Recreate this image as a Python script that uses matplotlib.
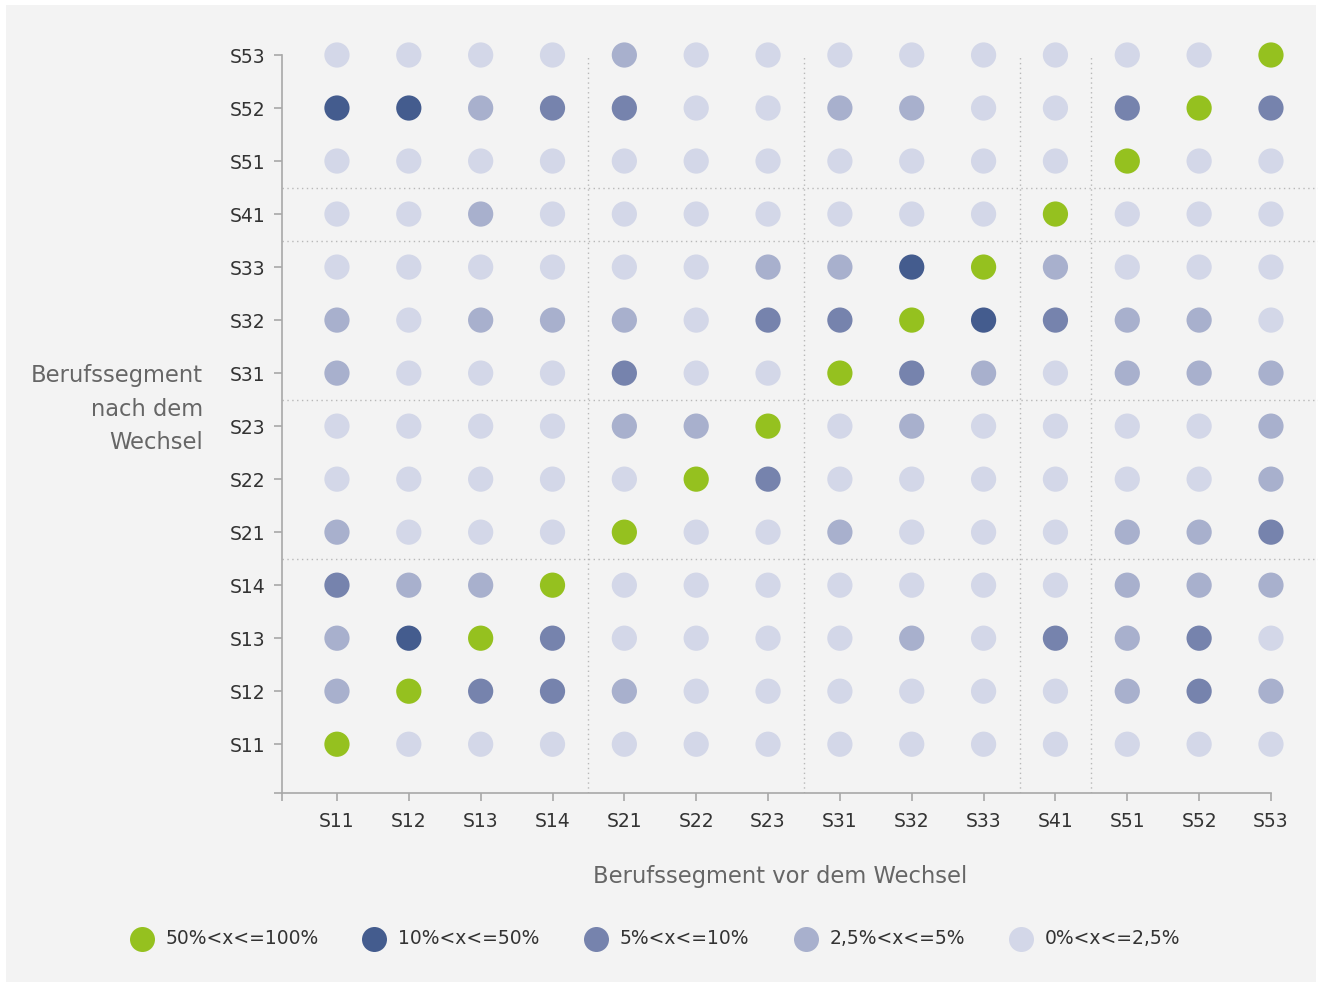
import matplotlib
matplotlib.use("Agg")
import matplotlib.pyplot as plt
from matplotlib.patches import Rectangle
from matplotlib.lines import Line2D
import numpy as np

plt.rcParams['font.family'] = ['DejaVu Sans']

# ---- data ----
segments = ["S11", "S12", "S13", "S14", "S21", "S22", "S23",
            "S31", "S32", "S33", "S41", "S51", "S52", "S53"]
# level per cell: 0 = 0-2,5%, 1 = 2,5-5%, 2 = 5-10%, 3 = 10-50%, 4 = 50-100%
# each list: row "after the change", columns = segment before the change (S11..S53)
row_S11 = [4, 0, 0, 0, 0, 0, 0, 0, 0, 0, 0, 0, 0, 0]
row_S12 = [1, 4, 2, 2, 1, 0, 0, 0, 0, 0, 0, 1, 2, 1]
row_S13 = [1, 3, 4, 2, 0, 0, 0, 0, 1, 0, 2, 1, 2, 0]
row_S14 = [2, 1, 1, 4, 0, 0, 0, 0, 0, 0, 0, 1, 1, 1]
row_S21 = [1, 0, 0, 0, 4, 0, 0, 1, 0, 0, 0, 1, 1, 2]
row_S22 = [0, 0, 0, 0, 0, 4, 2, 0, 0, 0, 0, 0, 0, 1]
row_S23 = [0, 0, 0, 0, 1, 1, 4, 0, 1, 0, 0, 0, 0, 1]
row_S31 = [1, 0, 0, 0, 2, 0, 0, 4, 2, 1, 0, 1, 1, 1]
row_S32 = [1, 0, 1, 1, 1, 0, 2, 2, 4, 3, 2, 1, 1, 0]
row_S33 = [0, 0, 0, 0, 0, 0, 1, 1, 3, 4, 1, 0, 0, 0]
row_S41 = [0, 0, 1, 0, 0, 0, 0, 0, 0, 0, 4, 0, 0, 0]
row_S51 = [0, 0, 0, 0, 0, 0, 0, 0, 0, 0, 0, 4, 0, 0]
row_S52 = [3, 3, 1, 2, 2, 0, 0, 1, 1, 0, 0, 2, 4, 2]
row_S53 = [0, 0, 0, 0, 1, 0, 0, 0, 0, 0, 0, 0, 0, 4]
rows = [row_S11, row_S12, row_S13, row_S14, row_S21, row_S22, row_S23,
        row_S31, row_S32, row_S33, row_S41, row_S51, row_S52, row_S53]

level_labels = ["0%<x<=2,5%", "2,5%<x<=5%", "5%<x<=10%", "10%<x<=50%", "50%<x<=100%"]
level_colors = ["#d3d7e8", "#a8b0cd", "#7683ad", "#445c8e", "#95c11f"]
group_bounds = [3.5, 6.5, 9.5, 10.5]  # between segment groups

# ---- figure ----
W, H = 1318, 983
fig = plt.figure(figsize=(W / 100, H / 100), dpi=100)
fig.patch.set_facecolor("white")
fig.add_artist(Rectangle((6 / W, 1 - 982 / H), (1316 - 6) / W, (982 - 5) / H,
                         transform=fig.transFigure, facecolor="#f3f3f3",
                         edgecolor="none", zorder=-10))

ax = fig.add_axes([282 / W, 190 / H, (1313 - 282) / W, (954.5 - 190) / H])
ax.set_facecolor("none")

n = len(segments)
xmin, xmax = -0.765, n - 1 + 0.585
ymin, ymax = -0.92, n - 1 + 0.5
ax.set_xlim(xmin, xmax)
ax.set_ylim(ymin, ymax)

# separators
sep_style = dict(color="#b8b8b8", lw=1.0, linestyle=(0, (1, 2.5)), zorder=1)
for b in group_bounds:
    ax.plot([b, b], [ymin, n - 1], **sep_style)
    ax.plot([xmin, xmax + 0.1], [b, b], clip_on=False, **sep_style)

# dots
for yi, row in enumerate(rows):
    for xi, lv in enumerate(row):
        ax.scatter(xi, yi, s=330, color=level_colors[lv], edgecolors="none",
                   zorder=3, clip_on=False)

# axes styling
for side in ["top", "right"]:
    ax.spines[side].set_visible(False)
for side in ["left", "bottom"]:
    ax.spines[side].set_color("#a8a8a8")
    ax.spines[side].set_linewidth(1.2)
ax.spines["left"].set_bounds(ymin, n - 1)
ax.spines["bottom"].set_bounds(xmin, n - 1)

ax.set_xticks([xmin] + list(range(n)))
ax.set_xticklabels([""] + segments)
ax.set_yticks([ymin] + list(range(n)))
ax.set_yticklabels([""] + segments)
ax.tick_params(axis="both", color="#a8a8a8", length=6, width=1.2,
               labelsize=13.5, labelcolor="#333333")
ax.tick_params(axis="x", pad=8)
ax.tick_params(axis="y", pad=6)

fig.text(780 / W, 1 - 876 / H, "Berufssegment vor dem Wechsel", ha="center",
         va="center", fontsize=16.3, color="#666666")
fig.text(203 / W, 1 - 409 / H, "Berufssegment\nnach dem\nWechsel", ha="right",
         va="center", fontsize=16.3, color="#666666", linespacing=1.6)

# legend
leg_x_marker = [142, 374, 596, 806, 1021]
leg_y = 1 - 939 / H
order = [4, 3, 2, 1, 0]
for xm, lv in zip(leg_x_marker, order):
    fig.add_artist(Line2D([xm / W], [leg_y], marker="o", markersize=18,
                          color=level_colors[lv], markeredgewidth=0,
                          linestyle="none", transform=fig.transFigure))
    fig.text((xm + 24) / W, leg_y, level_labels[lv], ha="left", va="center",
             fontsize=13.5, color="#333333")

fig.savefig("out.png", dpi=100, facecolor=fig.get_facecolor())
